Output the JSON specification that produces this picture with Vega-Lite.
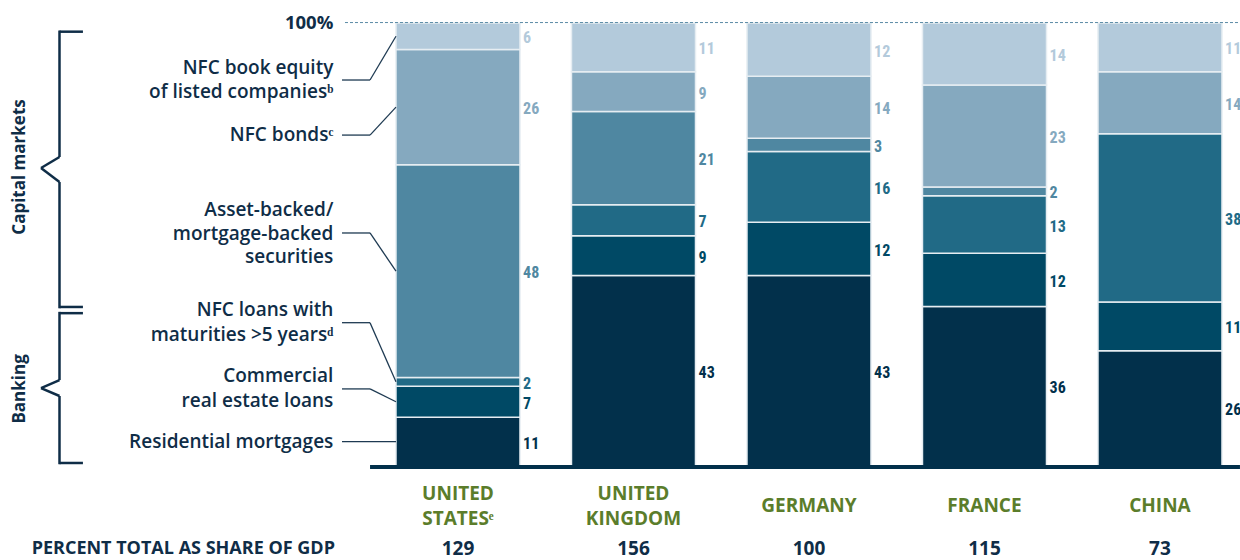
{
  "$schema": "https://vega.github.io/schema/vega-lite/v6.json",
  "width": 1240,
  "height": 443,
  "autosize": {"type": "none"},
  "padding": {"left": 0, "right": 0, "top": 23, "bottom": 94},
  "background": "white",
  "config": {"view": {"stroke": null}},
  "datasets": {
    "main": [
      {"country": "UNITED STATES", "cat": "Residential mortgages", "value": 11},
      {"country": "UNITED STATES", "cat": "Commercial real estate loans", "value": 7},
      {"country": "UNITED STATES", "cat": "NFC loans >5 years", "value": 2},
      {"country": "UNITED STATES", "cat": "ABS/MBS", "value": 48},
      {"country": "UNITED STATES", "cat": "NFC bonds", "value": 26},
      {"country": "UNITED STATES", "cat": "NFC book equity", "value": 6},
      {"country": "UNITED KINGDOM", "cat": "Residential mortgages", "value": 43},
      {"country": "UNITED KINGDOM", "cat": "Commercial real estate loans", "value": 9},
      {"country": "UNITED KINGDOM", "cat": "NFC loans >5 years", "value": 7},
      {"country": "UNITED KINGDOM", "cat": "ABS/MBS", "value": 21},
      {"country": "UNITED KINGDOM", "cat": "NFC bonds", "value": 9},
      {"country": "UNITED KINGDOM", "cat": "NFC book equity", "value": 11},
      {"country": "GERMANY", "cat": "Residential mortgages", "value": 43},
      {"country": "GERMANY", "cat": "Commercial real estate loans", "value": 12},
      {"country": "GERMANY", "cat": "NFC loans >5 years", "value": 16},
      {"country": "GERMANY", "cat": "ABS/MBS", "value": 3},
      {"country": "GERMANY", "cat": "NFC bonds", "value": 14},
      {"country": "GERMANY", "cat": "NFC book equity", "value": 12},
      {"country": "FRANCE", "cat": "Residential mortgages", "value": 36},
      {"country": "FRANCE", "cat": "Commercial real estate loans", "value": 12},
      {"country": "FRANCE", "cat": "NFC loans >5 years", "value": 13},
      {"country": "FRANCE", "cat": "ABS/MBS", "value": 2},
      {"country": "FRANCE", "cat": "NFC bonds", "value": 23},
      {"country": "FRANCE", "cat": "NFC book equity", "value": 14},
      {"country": "CHINA", "cat": "Residential mortgages", "value": 26},
      {"country": "CHINA", "cat": "Commercial real estate loans", "value": 11},
      {"country": "CHINA", "cat": "NFC loans >5 years", "value": 38},
      {"country": "CHINA", "cat": "NFC bonds", "value": 14},
      {"country": "CHINA", "cat": "NFC book equity", "value": 11}
    ],
    "countries": [
      {"country": "UNITED STATES", "top": "UNITED", "bottom": "STATESᵉ", "single": "", "total": "129"},
      {"country": "UNITED KINGDOM", "top": "UNITED", "bottom": "KINGDOM", "single": "", "total": "156"},
      {"country": "GERMANY", "top": "", "bottom": "", "single": "GERMANY", "total": "100"},
      {"country": "FRANCE", "top": "", "bottom": "", "single": "FRANCE", "total": "115"},
      {"country": "CHINA", "top": "", "bottom": "", "single": "CHINA", "total": "73"}
    ],
    "one": [{}]
  },
  "layer": [
    {
      "data": {"name": "main"},
      "transform": [
        {"calculate": "indexof(['Residential mortgages','Commercial real estate loans','NFC loans >5 years','ABS/MBS','NFC bonds','NFC book equity'], datum.cat)", "as": "ord"},
        {"stack": "value", "groupby": ["country"], "sort": [{"field": "ord", "order": "ascending"}], "as": ["y0", "y1"]}
      ],
      "mark": {"type": "bar", "stroke": "#e6edf2", "strokeWidth": 1.5},
      "encoding": {
        "x": {"field": "country", "type": "nominal", "axis": null,
              "scale": {"domain": ["L0", "L1", "UNITED STATES", "UNITED KINGDOM", "GERMANY", "FRANCE", "CHINA"], "paddingInner": 0.2934, "paddingOuter": 0.1795, "align": 0.714}},
        "y": {"field": "y0", "type": "quantitative", "axis": null, "scale": {"domain": [0, 100], "nice": false, "zero": false}},
        "y2": {"field": "y1"},
        "color": {"field": "cat", "type": "nominal", "legend": null,
                  "scale": {"domain": ["Residential mortgages", "Commercial real estate loans", "NFC loans >5 years", "ABS/MBS", "NFC bonds", "NFC book equity"],
                            "range": ["#02304b", "#004965", "#216a86", "#4f87a1", "#85a9bf", "#b3cadb"]}}
      }
    },
    {
      "data": {"name": "one"},
      "mark": {"type": "rule", "color": "#5a8aa5", "strokeWidth": 1, "strokeDash": [3, 2]},
      "encoding": {"x": {"datum": "L1", "bandPosition": 1.004}, "x2": {"datum": "CHINA", "bandPosition": 1.145}, "y": {"datum": 100.1}, "y2": {"datum": 100.1}}
    },
    {
      "data": {"name": "one"},
      "mark": {"type": "rule", "color": "#02304b", "strokeWidth": 4},
      "encoding": {"x": {"datum": "L1", "bandPosition": 1.206}, "x2": {"datum": "CHINA", "bandPosition": 1.145}, "y": {"datum": -0.2}, "y2": {"datum": -0.2}}
    },
    {
      "data": {"name": "main"},
      "transform": [
        {"calculate": "indexof(['Residential mortgages','Commercial real estate loans','NFC loans >5 years','ABS/MBS','NFC bonds','NFC book equity'], datum.cat)", "as": "ord"},
        {"stack": "value", "groupby": ["country"], "sort": [{"field": "ord", "order": "ascending"}], "as": ["y0", "y1"]},
        {"calculate": "(datum.y0 + datum.y1) / 2", "as": "ym"}
      ],
      "mark": {"type": "text", "align": "left", "baseline": "middle", "dy": 2, "font": "'Roboto Condensed', 'Liberation Sans Narrow', Roboto, sans-serif", "fontSize": 16, "fontWeight": "bold"},
      "encoding": {
        "x": {"field": "country", "type": "nominal", "bandPosition": 1.025},
        "y": {"field": "ym", "type": "quantitative"},
        "text": {"field": "value", "type": "quantitative"},
        "color": {"field": "cat", "type": "nominal", "legend": null}
      }
    },
    {
      "data": {"name": "countries"},
      "mark": {"type": "text", "align": "center", "baseline": "middle", "font": "Open Sans", "fontSize": 19, "fontWeight": "bold", "color": "#5b7d2b"},
      "encoding": {"x": {"field": "country", "type": "nominal"}, "y": {"datum": -6.32}, "text": {"field": "top"}}
    },
    {
      "data": {"name": "countries"},
      "mark": {"type": "text", "align": "center", "baseline": "middle", "font": "Open Sans", "fontSize": 19, "fontWeight": "bold", "color": "#5b7d2b"},
      "encoding": {"x": {"field": "country", "type": "nominal"}, "y": {"datum": -11.96}, "text": {"field": "bottom"}}
    },
    {
      "data": {"name": "countries"},
      "mark": {"type": "text", "align": "center", "baseline": "middle", "font": "Open Sans", "fontSize": 19, "fontWeight": "bold", "color": "#5b7d2b"},
      "encoding": {"x": {"field": "country", "type": "nominal"}, "y": {"datum": -9.03}, "text": {"field": "single"}}
    },
    {
      "data": {"name": "countries"},
      "mark": {"type": "text", "align": "center", "baseline": "middle", "font": "Open Sans", "fontSize": 19, "fontWeight": "bold", "color": "#0f2d47"},
      "encoding": {"x": {"field": "country", "type": "nominal"}, "y": {"datum": -18.74}, "text": {"field": "total"}}
    },
    {
      "data": {"name": "one"},
      "mark": {"type": "text", "text": "PERCENT TOTAL AS SHARE OF GDP", "align": "right", "baseline": "middle", "font": "Open Sans", "fontSize": 18, "fontWeight": "bold", "color": "#0f2d47"},
      "encoding": {"x": {"datum": "L1", "bandPosition": 0.923}, "y": {"datum": -18.74}}
    },
    {
      "data": {"name": "one"},
      "mark": {"type": "text", "text": "100%", "align": "right", "baseline": "middle", "font": "Open Sans", "fontSize": 18.5, "fontWeight": "bold", "color": "#0f2d47"},
      "encoding": {"x": {"datum": "L1", "bandPosition": 0.91}, "y": {"datum": 100}}
    },
    {
      "data": {"name": "one"},
      "mark": {"type": "text", "text": ["NFC book equity", "of listed companiesᵇ"], "align": "right", "baseline": "middle", "lineHeight": 24, "dy": -12, "font": "Open Sans", "fontSize": 19, "fontWeight": 600, "color": "#0f2d47"},
      "encoding": {"x": {"datum": "L1", "bandPosition": 0.91}, "y": {"datum": 87.13}}
    },
    {
      "data": {"name": "one"},
      "mark": {"type": "text", "text": "NFC bondsᶜ", "align": "right", "baseline": "middle", "font": "Open Sans", "fontSize": 19, "fontWeight": 600, "color": "#0f2d47"},
      "encoding": {"x": {"datum": "L1", "bandPosition": 0.91}, "y": {"datum": 74.7}}
    },
    {
      "data": {"name": "one"},
      "mark": {"type": "text", "text": ["Asset-backed/", "mortgage-backed", "securities"], "align": "right", "baseline": "middle", "lineHeight": 23.5, "dy": -23.5, "font": "Open Sans", "fontSize": 19, "fontWeight": 600, "color": "#0f2d47"},
      "encoding": {"x": {"datum": "L1", "bandPosition": 0.91}, "y": {"datum": 52.4}}
    },
    {
      "data": {"name": "one"},
      "mark": {"type": "text", "text": ["NFC loans with", "maturities >5 yearsᵈ"], "align": "right", "baseline": "middle", "lineHeight": 25, "dy": -12.5, "font": "Open Sans", "fontSize": 19, "fontWeight": 600, "color": "#0f2d47"},
      "encoding": {"x": {"datum": "L1", "bandPosition": 0.91}, "y": {"datum": 32.35}}
    },
    {
      "data": {"name": "one"},
      "mark": {"type": "text", "text": ["Commercial", "real estate loans"], "align": "right", "baseline": "middle", "lineHeight": 25, "dy": -12.5, "font": "Open Sans", "fontSize": 19, "fontWeight": 600, "color": "#0f2d47"},
      "encoding": {"x": {"datum": "L1", "bandPosition": 0.91}, "y": {"datum": 17.4}}
    },
    {
      "data": {"name": "one"},
      "mark": {"type": "text", "text": "Residential mortgages", "align": "right", "baseline": "middle", "font": "Open Sans", "fontSize": 19, "fontWeight": 600, "color": "#0f2d47"},
      "encoding": {"x": {"datum": "L1", "bandPosition": 0.91}, "y": {"datum": 5.5}}
    },
    {
      "data": {"name": "one"},
      "mark": {"type": "text", "text": "Capital markets", "angle": 270, "align": "center", "baseline": "middle", "font": "Open Sans", "fontSize": 17, "fontWeight": "bold", "color": "#0f2d47"},
      "encoding": {"x": {"datum": "L0", "bandPosition": -0.2}, "y": {"datum": 67.5}}
    },
    {
      "data": {"name": "one"},
      "mark": {"type": "text", "text": "Banking", "angle": 270, "align": "center", "baseline": "middle", "font": "Open Sans", "fontSize": 17, "fontWeight": "bold", "color": "#0f2d47"},
      "encoding": {"x": {"datum": "L0", "bandPosition": -0.2}, "y": {"datum": 17.4}}
    },
    {"data": {"name": "one"}, "mark": {"type": "rule", "color": "#1e3a52", "strokeWidth": 1.3},
     "encoding": {"x": {"datum": "L1", "bandPosition": 0.98}, "x2": {"datum": "L1", "bandPosition": 1.206}, "y": {"datum": 87.13}, "y2": {"datum": 87.13}}},
    {"data": {"name": "one"}, "mark": {"type": "rule", "color": "#1e3a52", "strokeWidth": 1.3},
     "encoding": {"x": {"datum": "L1", "bandPosition": 1.206}, "x2": {"datum": "UNITED STATES", "bandPosition": 0}, "y": {"datum": 87.13}, "y2": {"datum": 97}}},
    {"data": {"name": "one"}, "mark": {"type": "rule", "color": "#1e3a52", "strokeWidth": 1.3},
     "encoding": {"x": {"datum": "L1", "bandPosition": 0.98}, "x2": {"datum": "L1", "bandPosition": 1.206}, "y": {"datum": 74.7}, "y2": {"datum": 74.7}}},
    {"data": {"name": "one"}, "mark": {"type": "rule", "color": "#1e3a52", "strokeWidth": 1.3},
     "encoding": {"x": {"datum": "L1", "bandPosition": 1.206}, "x2": {"datum": "UNITED STATES", "bandPosition": 0}, "y": {"datum": 74.7}, "y2": {"datum": 81}}},
    {"data": {"name": "one"}, "mark": {"type": "rule", "color": "#1e3a52", "strokeWidth": 1.3},
     "encoding": {"x": {"datum": "L1", "bandPosition": 0.98}, "x2": {"datum": "L1", "bandPosition": 1.206}, "y": {"datum": 52.6}, "y2": {"datum": 52.6}}},
    {"data": {"name": "one"}, "mark": {"type": "rule", "color": "#1e3a52", "strokeWidth": 1.3},
     "encoding": {"x": {"datum": "L1", "bandPosition": 1.206}, "x2": {"datum": "UNITED STATES", "bandPosition": 0}, "y": {"datum": 52.6}, "y2": {"datum": 44}}},
    {"data": {"name": "one"}, "mark": {"type": "rule", "color": "#1e3a52", "strokeWidth": 1.3},
     "encoding": {"x": {"datum": "L1", "bandPosition": 0.98}, "x2": {"datum": "L1", "bandPosition": 1.206}, "y": {"datum": 32.35}, "y2": {"datum": 32.35}}},
    {"data": {"name": "one"}, "mark": {"type": "rule", "color": "#1e3a52", "strokeWidth": 1.3},
     "encoding": {"x": {"datum": "L1", "bandPosition": 1.206}, "x2": {"datum": "UNITED STATES", "bandPosition": 0}, "y": {"datum": 32.35}, "y2": {"datum": 19}}},
    {"data": {"name": "one"}, "mark": {"type": "rule", "color": "#1e3a52", "strokeWidth": 1.3},
     "encoding": {"x": {"datum": "L1", "bandPosition": 0.98}, "x2": {"datum": "L1", "bandPosition": 1.206}, "y": {"datum": 17.4}, "y2": {"datum": 17.4}}},
    {"data": {"name": "one"}, "mark": {"type": "rule", "color": "#1e3a52", "strokeWidth": 1.3},
     "encoding": {"x": {"datum": "L1", "bandPosition": 1.206}, "x2": {"datum": "UNITED STATES", "bandPosition": 0}, "y": {"datum": 17.4}, "y2": {"datum": 14.5}}},
    {"data": {"name": "one"}, "mark": {"type": "rule", "color": "#1e3a52", "strokeWidth": 1.3},
     "encoding": {"x": {"datum": "L1", "bandPosition": 0.98}, "x2": {"datum": "UNITED STATES", "bandPosition": 0}, "y": {"datum": 5.5}, "y2": {"datum": 5.5}}},
    {"data": {"name": "one"}, "mark": {"type": "rule", "color": "#0f2d47", "strokeWidth": 2.5},
     "encoding": {"x": {"datum": "L0", "bandPosition": 0.117}, "x2": {"datum": "L0", "bandPosition": 0.306}, "y": {"datum": 98.04}, "y2": {"datum": 98.04}}},
    {"data": {"name": "one"}, "mark": {"type": "rule", "color": "#0f2d47", "strokeWidth": 2.5},
     "encoding": {"x": {"datum": "L0", "bandPosition": 0.117}, "x2": {"datum": "L0", "bandPosition": 0.117}, "y": {"datum": 98.3}, "y2": {"datum": 69.75}}},
    {"data": {"name": "one"}, "mark": {"type": "rule", "color": "#0f2d47", "strokeWidth": 2.5},
     "encoding": {"x": {"datum": "L0", "bandPosition": 0.117}, "x2": {"datum": "L0", "bandPosition": -0.032}, "y": {"datum": 69.75}, "y2": {"datum": 67.27}}},
    {"data": {"name": "one"}, "mark": {"type": "rule", "color": "#0f2d47", "strokeWidth": 2.5},
     "encoding": {"x": {"datum": "L0", "bandPosition": -0.032}, "x2": {"datum": "L0", "bandPosition": 0.117}, "y": {"datum": 67.27}, "y2": {"datum": 64.1}}},
    {"data": {"name": "one"}, "mark": {"type": "rule", "color": "#0f2d47", "strokeWidth": 2.5},
     "encoding": {"x": {"datum": "L0", "bandPosition": 0.117}, "x2": {"datum": "L0", "bandPosition": 0.117}, "y": {"datum": 64.1}, "y2": {"datum": 35.6}}},
    {"data": {"name": "one"}, "mark": {"type": "rule", "color": "#0f2d47", "strokeWidth": 2.5},
     "encoding": {"x": {"datum": "L0", "bandPosition": 0.117}, "x2": {"datum": "L0", "bandPosition": 0.306}, "y": {"datum": 35.9}, "y2": {"datum": 35.9}}},
    {"data": {"name": "one"}, "mark": {"type": "rule", "color": "#0f2d47", "strokeWidth": 2.5},
     "encoding": {"x": {"datum": "L0", "bandPosition": 0.117}, "x2": {"datum": "L0", "bandPosition": 0.306}, "y": {"datum": 34.5}, "y2": {"datum": 34.5}}},
    {"data": {"name": "one"}, "mark": {"type": "rule", "color": "#0f2d47", "strokeWidth": 2.5},
     "encoding": {"x": {"datum": "L0", "bandPosition": 0.117}, "x2": {"datum": "L0", "bandPosition": 0.117}, "y": {"datum": 34.8}, "y2": {"datum": 19.4}}},
    {"data": {"name": "one"}, "mark": {"type": "rule", "color": "#0f2d47", "strokeWidth": 2.5},
     "encoding": {"x": {"datum": "L0", "bandPosition": 0.117}, "x2": {"datum": "L0", "bandPosition": -0.032}, "y": {"datum": 19.4}, "y2": {"datum": 17.6}}},
    {"data": {"name": "one"}, "mark": {"type": "rule", "color": "#0f2d47", "strokeWidth": 2.5},
     "encoding": {"x": {"datum": "L0", "bandPosition": -0.032}, "x2": {"datum": "L0", "bandPosition": 0.117}, "y": {"datum": 17.6}, "y2": {"datum": 15.8}}},
    {"data": {"name": "one"}, "mark": {"type": "rule", "color": "#0f2d47", "strokeWidth": 2.5},
     "encoding": {"x": {"datum": "L0", "bandPosition": 0.117}, "x2": {"datum": "L0", "bandPosition": 0.117}, "y": {"datum": 15.8}, "y2": {"datum": 0.4}}},
    {"data": {"name": "one"}, "mark": {"type": "rule", "color": "#0f2d47", "strokeWidth": 2.5},
     "encoding": {"x": {"datum": "L0", "bandPosition": 0.117}, "x2": {"datum": "L0", "bandPosition": 0.306}, "y": {"datum": 0.68}, "y2": {"datum": 0.68}}}
  ]
}
